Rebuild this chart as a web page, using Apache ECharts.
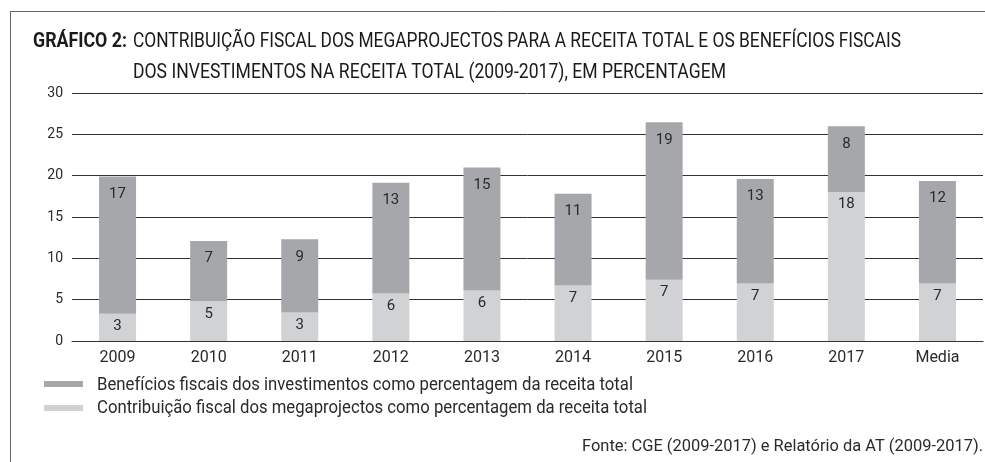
<!DOCTYPE html>
<html><head><meta charset="utf-8">
<script src="https://cdn.jsdelivr.net/npm/echarts@6/dist/echarts.min.js"></script>
<style>html,body{margin:0;padding:0;background:#fff}#c{width:985px;height:462px}</style>
</head><body><div id="c"></div>
<script>
const categories = ['2009','2010','2011','2012','2013','2014','2015','2016','2017','Media'];
const contribuicao = [3.3, 4.8, 3.45, 5.75, 6.1, 6.7, 7.4, 6.96, 18.03, 6.96];
const beneficios = [16.6, 7.3, 8.85, 13.4, 14.9, 11.1, 19.05, 12.64, 7.94, 12.4];
const yTicks = [0, 5, 10, 15, 20, 25, 30];
const seriesNames = ['Benefícios fiscais dos investimentos como percentagem da receita total',
                     'Contribuição fiscal dos megaprojectos como percentagem da receita total'];
const titleLabel = 'GRÁFICO 2:';
const titleLines = ['CONTRIBUIÇÃO FISCAL DOS MEGAPROJECTOS PARA A RECEITA TOTAL E OS BENEFÍCIOS FISCAIS',
                    'DOS INVESTIMENTOS NA RECEITA TOTAL (2009-2017), EM PERCENTAGEM'];
const sourceText = 'Fonte: CGE (2009-2017) e Relatório da AT (2009-2017).';

const FONT = 'Roboto, "Noto Sans", sans-serif';
const DARK = '#a6a7aa', LIGHT = '#d1d2d4';
const mctx = document.createElement('canvas').getContext('2d');
function condensed(text, font, x, y, width, fill) {
  mctx.font = font;
  const w = mctx.measureText(text).width;
  return { type: 'text', x: x, y: y, scaleX: width / w, scaleY: 1, silent: true,
    style: { text: text, font: font, fill: fill, x: 0, y: 0, textAlign: 'left', textVerticalAlign: 'middle' } };
}
const chart = echarts.init(document.getElementById('c'));
chart.setOption({
  animation: false,
  textStyle: { fontFamily: FONT },
  grid: { left: 72, right: 2, top: 93, bottom: 121 },
  xAxis: {
    type: 'category', data: categories,
    axisLine: { lineStyle: { color: '#333', width: 1 } },
    axisTick: { show: false },
    axisLabel: { color: '#2a2a2a', fontSize: 16, margin: 9, fontFamily: FONT }
  },
  yAxis: {
    type: 'value', min: yTicks[0], max: yTicks[yTicks.length-1], interval: 5,
    axisLine: { show: false }, axisTick: { show: false },
    axisLabel: { color: '#2a2a2a', fontSize: 14, margin: 9, fontFamily: FONT },
    splitLine: { lineStyle: { color: '#333', width: 1 } }
  },
  series: [
    { name: seriesNames[1], type: 'bar', stack: 's', data: contribuicao, barWidth: 37,
      itemStyle: { color: LIGHT },
      label: { show: true, position: 'insideTop', distance: 5, color: '#2a2a2a', fontSize: 15, fontFamily: FONT,
        formatter: p => Math.round(p.value) } },
    { name: seriesNames[0], type: 'bar', stack: 's', data: beneficios, barWidth: 37,
      itemStyle: { color: DARK },
      label: { show: true, position: 'insideTop', distance: 10, color: '#2a2a2a', fontSize: 15, fontFamily: FONT,
        formatter: p => Math.round(p.value) } }
  ],
  graphic: [
    { type: 'line', shape: { x1: 10, y1: 11.5, x2: 985, y2: 11.5 }, style: { stroke: '#666', lineWidth: 1 } },
    { type: 'line', shape: { x1: 10.5, y1: 11, x2: 10.5, y2: 462 }, style: { stroke: '#666', lineWidth: 1 } },
    condensed(titleLabel, 'bold 21px ' + FONT, 33, 42, 94, '#1a1a1a'),
    condensed(titleLines[0], '21px ' + FONT, 133, 42, 768, '#1a1a1a'),
    condensed(titleLines[1], '21px ' + FONT, 133, 72.5, 593, '#1a1a1a'),
    { type: 'rect', shape: { x: 44, y: 381, width: 39, height: 6 }, style: { fill: DARK } },
    { type: 'rect', shape: { x: 44, y: 405, width: 39, height: 6 }, style: { fill: LIGHT } },
    condensed(seriesNames[0], '18px ' + FONT, 97, 385, 536, '#2a2a2a'),
    condensed(seriesNames[1], '18px ' + FONT, 97, 408, 550, '#2a2a2a'),
    condensed(sourceText, '16px ' + FONT, 582, 447, 401, '#2a2a2a')
  ]
});
</script></body></html>
